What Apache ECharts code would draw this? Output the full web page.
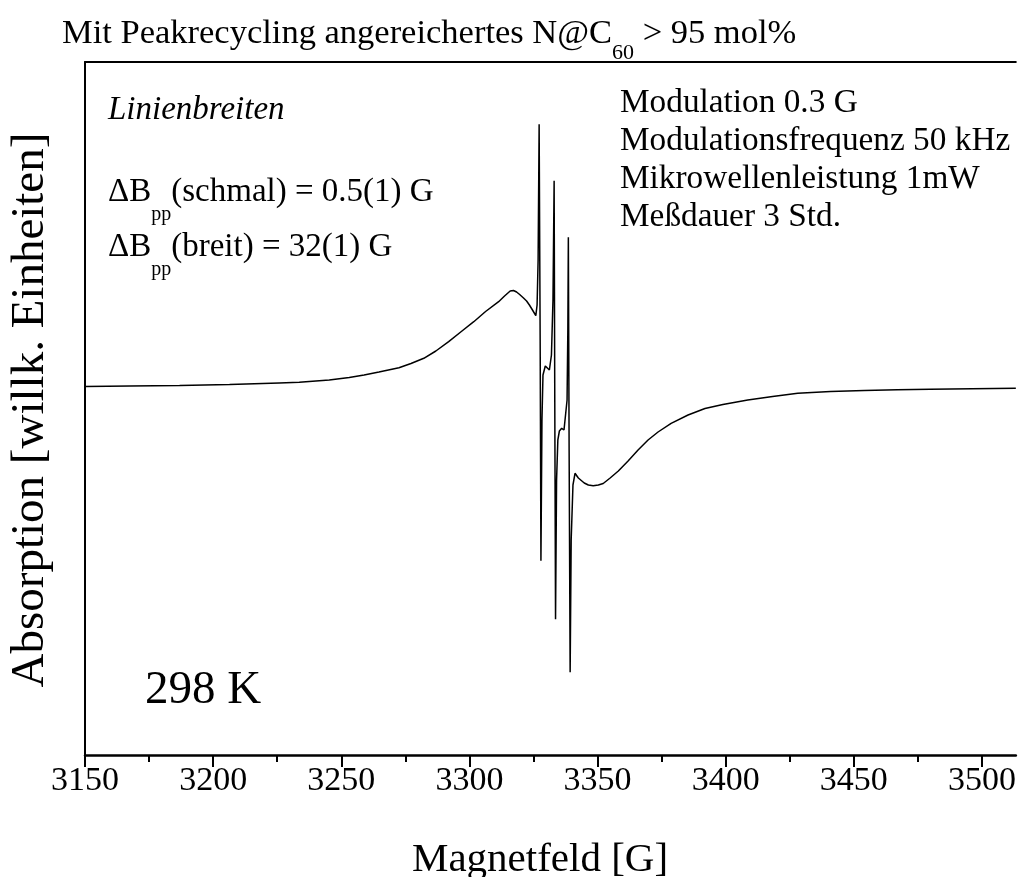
<!DOCTYPE html>
<html>
<head>
<meta charset="utf-8">
<script src="https://cdn.jsdelivr.net/npm/echarts@6/dist/echarts.min.js"></script>
<style>
  html, body { margin: 0; padding: 0; background: #fff; }
  #chart { width: 1019px; height: 877px; }
</style>
</head>
<body>
<div id="chart"></div>
<script>
// Magnetic field values [G]
const fieldG = [
  3150.0, 3167.5, 3186.9, 3206.4, 3225.8, 3233.6, 3245.3, 3253.1, 3258.9, 3264.7,
  3272.5, 3277.2, 3282.2, 3286.9, 3291.9, 3296.6, 3301.7, 3306.3, 3311.4, 3313.7,
  3315.9, 3317.2, 3318.4, 3319.6, 3321.1, 3322.3, 3323.4, 3324.6, 3325.9, 3326.4,
  3326.8, 3327.2, 3327.6, 3327.9, 3328.3, 3328.7, 3329.6, 3330.4, 3331.2, 3332.0,
  3332.6, 3333.05, 3333.3, 3333.6, 3334.0, 3334.5, 3335.1, 3336.0, 3336.9, 3337.5,
  3338.1, 3338.4, 3338.6, 3338.9, 3339.3, 3339.7, 3340.4, 3341.2, 3342.5, 3344.8,
  3346.4, 3348.3, 3350.3, 3352.2, 3354.9, 3358.1, 3361.9, 3365.8, 3369.7, 3373.6,
  3378.7, 3385.3, 3391.9, 3398.9, 3408.6, 3418.3, 3428.1, 3440.9, 3454.1, 3466.9,
  3479.8, 3496.1, 3513.2
];
// EPR derivative signal [arb. units]
const signal = [
  -0.5, 0.0, 0.5, 1.5, 3.0, 3.7, 6.0, 8.5, 11.0, 14.0,
  18.3, 22.5, 27.7, 35.0, 44.3, 54.0, 64.3, 74.5, 84.3, 90.0,
  95.0, 95.5, 94.0, 91.5, 88.0, 85.0, 81.0, 76.0, 70.3, 81.0,
  126.0, 261.7, 46.0, -174.7, -34.0, 11.0, 20.0, 18.0, 16.0, 31.0,
  86.0, 205.3, -14.0, -233.3, -94.0, -54.0, -45.0, -42.3, -44.0, -45.7,
  -14.0, 56.0, 148.7, -64.0, -286.3, -154.0, -99.0, -87.3, -92.0, -97.0,
  -99.0, -99.7, -99.0, -97.5, -92.0, -85.0, -75.0, -64.0, -54.0, -46.0,
  -37.3, -29.0, -22.5, -18.5, -14.0, -10.5, -7.3, -5.5, -4.5, -3.8,
  -3.3, -2.8, -2.2
];
const majorTicks = [3150, 3200, 3250, 3300, 3350, 3400, 3450, 3500];
const minorTicks = [3175, 3225, 3275, 3325, 3375, 3425, 3475];
const xMin = 3150;
const xMax = 3513.2;
const yMin = -369;
const yMax = 324;

const titleText = 'Mit Peakrecycling angereichertes N@C';
const titleSub = '60';
const titleTail = ' > 95 mol%';
const xName = 'Magnetfeld [G]';
const yName = 'Absorption [willk. Einheiten]';
const leftNotes = ['Linienbreiten'];
const widthLines = [['ΔB', 'pp', '(schmal) = 0.5(1) G'], ['ΔB', 'pp', '(breit) = 32(1) G']];
const rightNotes = ['Modulation 0.3 G', 'Modulationsfrequenz 50 kHz', 'Mikrowellenleistung 1mW', 'Meßdauer 3 Std.'];
const tempLabel = '298 K';

const FONT = "'Liberation Serif', 'Times New Roman', serif";
const chart = echarts.init(document.getElementById('chart'), null, { renderer: 'canvas' });

function richSubText(parts, x, y, size, subSize, subPad) {
  return {
    type: 'text', left: x, top: y,
    style: {
      text: '{n|' + parts[0] + '}{s|' + parts[1] + '}{n|' + parts[2] + '}',
      fill: '#000',
      rich: {
        n: { fontSize: size, fontFamily: FONT, fill: '#000' },
        s: { fontSize: subSize, fontFamily: FONT, fill: '#000', padding: [subPad, 0, 0, 0] }
      }
    }
  };
}

const graphics = [];
graphics.push(richSubText([titleText, titleSub, titleTail], 62, 16, 34.5, 22, 40));
graphics.push({ type: 'text', left: 108, top: 94, style: { text: leftNotes[0], fontSize: 33, fontStyle: 'italic', fontFamily: FONT, fill: '#000' } });
graphics.push(richSubText(widthLines[0], 108, 176, 33, 20, 44));
graphics.push(richSubText(widthLines[1], 108, 231, 33, 20, 44));
rightNotes.forEach((t, i) => {
  graphics.push({ type: 'text', left: 620, top: 87 + i * 38, style: { text: t, fontSize: 33.3, fontFamily: FONT, fill: '#000' } });
});
graphics.push({ type: 'text', left: 145, top: 667, style: { text: tempLabel, fontSize: 47, fontFamily: FONT, fill: '#000' } });
graphics.push({ type: 'text', x: 540, y: 860, style: { text: xName, fontSize: 41, fontFamily: FONT, fill: '#000', textAlign: 'center', textVerticalAlign: 'middle', align: 'center', verticalAlign: 'middle' } });
graphics.push({ type: 'text', x: 31, y: 410, rotation: Math.PI / 2, style: { text: yName, fontSize: 47, fontFamily: FONT, fill: '#000', textAlign: 'center', textVerticalAlign: 'middle', align: 'center', verticalAlign: 'middle' } });

const hiddenLabel = { show: false };
chart.setOption({
  animation: false,
  backgroundColor: '#fff',
  grid: { left: 85, top: 62, right: 0, bottom: 122, show: false, containLabel: false },
  xAxis: [
    {
      type: 'value', position: 'bottom', min: xMin, max: xMax,
      axisLine: { show: true, onZero: false, lineStyle: { color: '#000', width: 2.5 } },
      axisTick: { show: true, inside: false, length: 12, customValues: majorTicks, lineStyle: { color: '#000', width: 2 } },
      splitLine: { show: false },
      axisLabel: { color: '#000', fontSize: 34, fontFamily: FONT, margin: 9, customValues: majorTicks, formatter: v => String(v) }
    },
    {
      type: 'value', position: 'bottom', min: xMin, max: xMax,
      axisLine: { show: false, onZero: false },
      axisTick: { show: true, inside: false, length: 7, customValues: minorTicks, lineStyle: { color: '#000', width: 2 } },
      splitLine: { show: false },
      axisLabel: hiddenLabel
    },
    {
      type: 'value', position: 'top', min: xMin, max: xMax,
      axisLine: { show: true, onZero: false, lineStyle: { color: '#000', width: 2 } },
      axisTick: { show: false },
      splitLine: { show: false },
      axisLabel: hiddenLabel
    }
  ],
  yAxis: {
    type: 'value', min: yMin, max: yMax,
    axisLine: { show: true, onZero: false, lineStyle: { color: '#000', width: 2 } },
    axisTick: { show: false },
    splitLine: { show: false },
    axisLabel: hiddenLabel
  },
  series: [{
    type: 'line',
    xAxisIndex: 0,
    data: fieldG.map((g, i) => [g, signal[i]]),
    showSymbol: false,
    symbol: 'none',
    lineStyle: { color: '#000', width: 1.5 },
    clip: true
  }],
  graphic: graphics
});
</script>
</body>
</html>
